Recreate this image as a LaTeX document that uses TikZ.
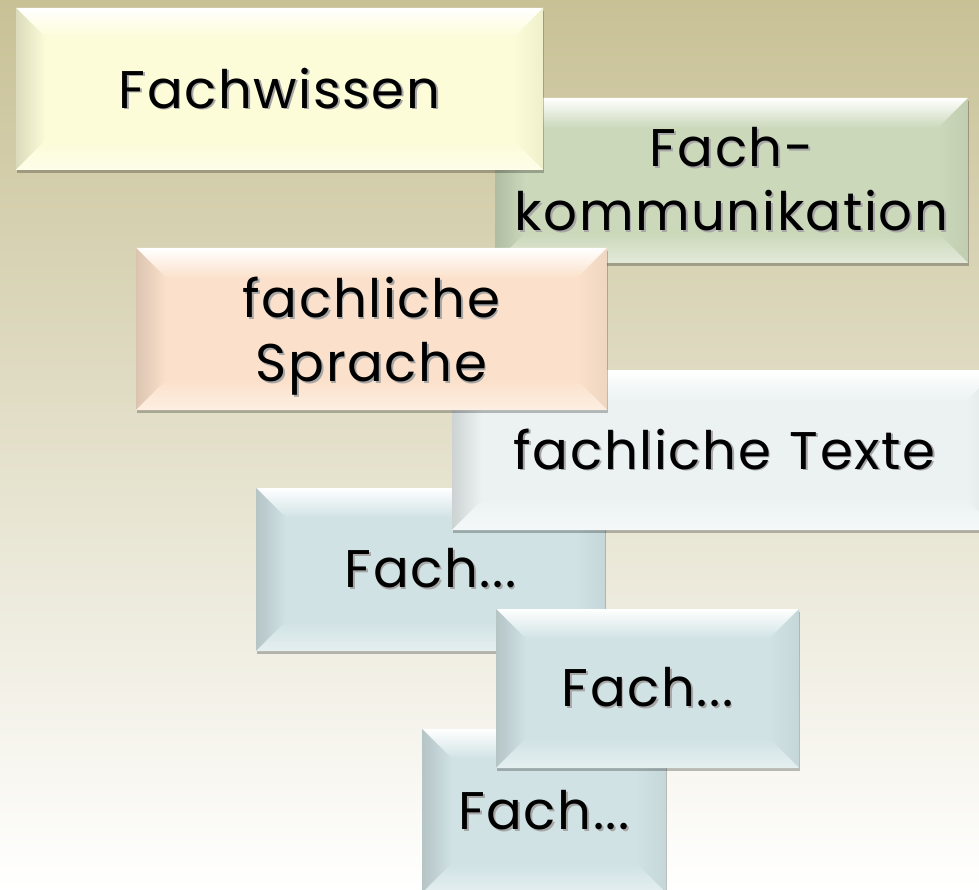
\documentclass[tikz,border=0pt]{standalone}
\usepackage{fontspec}
\setmainfont[LetterSpace=3,WordSpace=1.2]{Poppins}
\usetikzlibrary{calc,shadows}
\definecolor{bgtop}{RGB}{200,193,150}
\definecolor{bgmid}{RGB}{230,226,206}
\definecolor{cyel}{RGB}{252,252,216}
\definecolor{cgreen}{RGB}{203,216,186}
\definecolor{cpeach}{RGB}{251,225,203}
\definecolor{cwhite}{RGB}{236,242,242}
\definecolor{cblue}{RGB}{208,226,228}
\newcommand{\sht}[1]{\leavevmode\rlap{\hspace{1.8pt}\raisebox{-1.8pt}{\color{black!35}#1}}#1}
\newcommand{\nodp}[1]{\raisebox{0pt}[\height][0pt]{#1}}
\newcommand{\bv}{30}
\tikzset{
  bbox/.style={rectangle, inner sep=0pt, outer sep=0pt, fill=#1,
    font=\fontsize{53}{64}\selectfont, align=center, text=black,
    drop shadow={shadow xshift=0.5pt, shadow yshift=-3pt, opacity=0.25, fill=black},
    path picture={
      \coordinate (A) at (path picture bounding box.north west);
      \coordinate (B) at (path picture bounding box.north east);
      \coordinate (C) at (path picture bounding box.south east);
      \coordinate (D) at (path picture bounding box.south west);
      \coordinate (a) at ($(A)+(\bv,\bv)$);
      \coordinate (b) at ($(B)+(-\bv,\bv)$);
      \coordinate (c) at ($(C)+(-\bv,-\bv)$);
      \coordinate (d) at ($(D)+(\bv,-\bv)$);
      \shade[top color=white, bottom color=#1] (A)--(B)--(b)--(a)--cycle;
      \shade[left color=#1!87!black, right color=#1] (A)--(a)--(d)--(D)--cycle;
      \shade[right color=#1!95!black, left color=#1] (B)--(b)--(c)--(C)--cycle;
      \shade[bottom color=#1!55!white, top color=#1] (D)--(d)--(c)--(C)--cycle;
    }}
}
\begin{document}
\begin{tikzpicture}[x=1pt,y=-1pt]
\useasboundingbox (0,0) rectangle (979,890);
\shade[top color=bgtop, middle color=bgmid, bottom color=white] (0,0) rectangle (979,890);
\node[bbox=cgreen, minimum width=473pt, minimum height=165pt] (b2) at (731.5,180.5) {\sht{Fach-}\\\sht{kommunikation}};
\node[bbox=cyel, minimum width=527pt, minimum height=162pt] (b1) at (279.5,89) {\sht{Fachwissen}};
\node[bbox=cblue, minimum width=349pt, minimum height=163pt] (b5) at (430.5,569.5) {\sht{Fach...}};
\node[bbox=cwhite, minimum width=545pt, minimum height=160pt] (b4) at (724.5,450) {\sht{fachliche Texte}};
\node[bbox=cpeach, minimum width=471pt, minimum height=162pt] (b3) at (371.5,329) {\sht{fachliche}\\\nodp{\sht{Sprache}}};
\node[bbox=cblue, minimum width=244pt, minimum height=164pt] (b7) at (544,811) {\sht{Fach...}};
\node[bbox=cblue, minimum width=303pt, minimum height=159pt] (b6) at (647.5,688.5) {\sht{Fach...}};
\end{tikzpicture}
\end{document}
